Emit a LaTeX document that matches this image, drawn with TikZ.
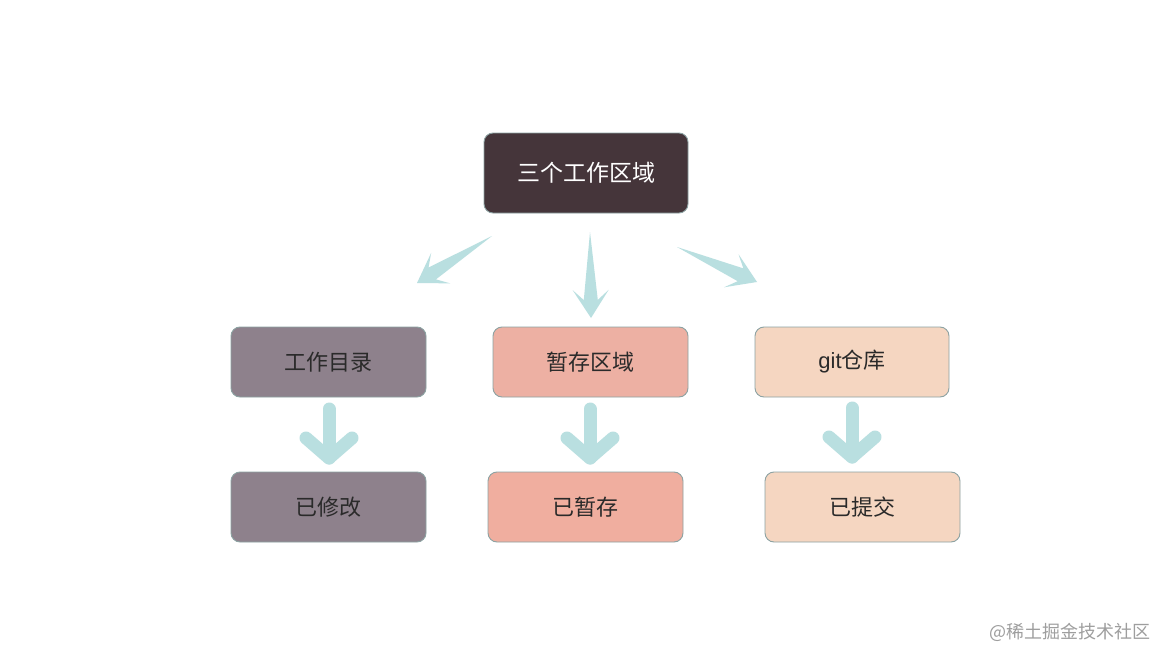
\documentclass[tikz,border=0pt]{standalone}
\usepackage{fontspec}
\setmainfont{Liberation Sans}
\newfontfamily\cjk{Noto Sans CJK SC}
\usetikzlibrary{calc}
\definecolor{topc}{HTML}{45353A}
\definecolor{purc}{HTML}{8E818C}
\definecolor{salc}{HTML}{EDB0A3}
\definecolor{salcb}{HTML}{F0AE9F}
\definecolor{peach}{HTML}{F5D6C1}
\definecolor{edgec}{HTML}{8CA2A2}
\definecolor{arrc}{HTML}{B9DFE0}
\definecolor{txtc}{HTML}{2A2A2A}
\definecolor{wmc}{HTML}{9E9E9E}
\tikzset{
  box/.style={draw=edgec, line width=0.9pt, rounded corners=9pt, minimum width=195pt,
    minimum height=70pt, inner sep=0pt, font=\cjk\fontsize{22}{25}\selectfont, text=txtc},
  dartfill/.style={fill=arrc},
  downarr/.style={draw=arrc, line width=13pt, line cap=round, line join=round},
}
\newcommand\dartarrow[2]{%
  \fill[dartfill] (#1) -- ($(#2)!18pt!(#1)!7pt!-90:(#1)$) -- ($(#2)!28pt!(#1)!18pt!-90:(#1)$)
    -- (#2) -- ($(#2)!28pt!(#1)!18pt!90:(#1)$) -- ($(#2)!18pt!(#1)!7pt!90:(#1)$) -- cycle;}
\begin{document}
\begin{tikzpicture}[x=1pt, y=-1pt]
\useasboundingbox[fill=white] (0,0) rectangle (1171,661);
% top
\node[box, fill=topc, minimum width=204pt, minimum height=80pt, text=white,
  font=\cjk\fontsize{23}{26}\selectfont] (top) at (586,173) {三个工作区域};
% row 2
\node[box, fill=purc] (wd) at (328.5,362) {工作目录};
\node[box, fill=salc] (st) at (590.5,362) {暂存区域};
\node[box, fill=peach, minimum width=194pt] (gr) at (852,362) {{\rmfamily git}仓库};
% row 3
\node[box, fill=purc] (md) at (328.5,507) {已修改};
\node[box, fill=salcb] (sd) at (585.5,507) {已暂存};
\node[box, fill=peach] (cm) at (862.5,507) {已提交};
% dart arrows
\coordinate (la) at (492,236); \coordinate (lb) at (417,283);
\coordinate (ma) at (590,232); \coordinate (mb) at (591,318);
\coordinate (ra) at (677,247); \coordinate (rb) at (757,282);
\dartarrow{la}{lb}
\dartarrow{ma}{mb}
\dartarrow{ra}{rb}
% down arrows
\coordinate (d1a) at (329,409); \coordinate (d1b) at (329,458);
\coordinate (d2a) at (590,409); \coordinate (d2b) at (590,458);
\coordinate (d3a) at (852,408); \coordinate (d3b) at (852,457);
\foreach \a/\b in {d1a/d1b, d2a/d2b, d3a/d3b}{
  \draw[downarr] (\a) -- (\b);
  \draw[downarr] ($(\b)+(-23,-20)$) -- (\b) -- ($(\b)+(23,-20)$);
}
% watermark
\node[font=\cjk\fontsize{18}{20}\selectfont, text=wmc, anchor=east, inner sep=0pt] (wm) at (1151,632) {@稀土掘金技术社区};
\end{tikzpicture}
\end{document}
